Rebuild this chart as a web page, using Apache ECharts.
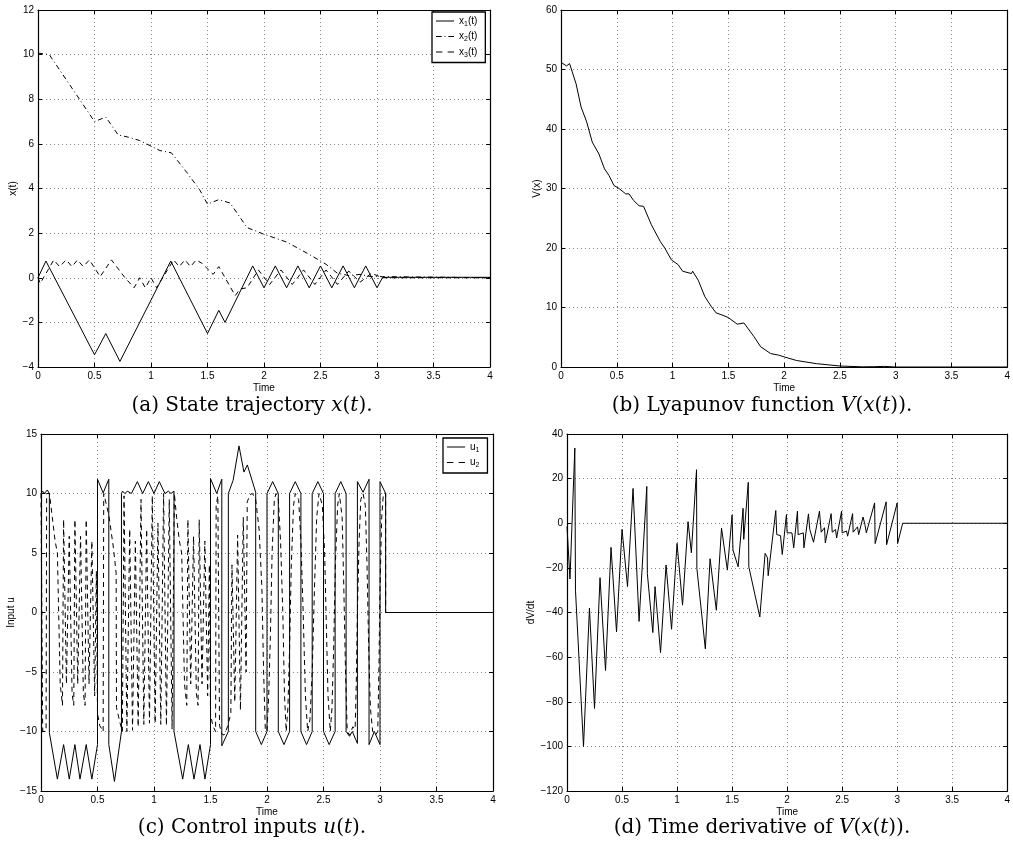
<!DOCTYPE html>
<html><head><meta charset="utf-8">
<script src="https://cdn.jsdelivr.net/npm/echarts@6/dist/echarts.min.js"></script>
<style>html,body{margin:0;padding:0;background:#fff}#c{width:1013px;height:850px}</style>
</head><body><div id="c"></div>
<script>
// ---- data (t, value) ----
const timeTicks = [0, 0.5, 1, 1.5, 2, 2.5, 3, 3.5, 4];

const x1 = [[0,0],[0.07,0.75],[0.5,-3.45],[0.6,-2.5],[0.725,-3.75],[1.175,0.75],[1.5,-2.5],[1.6,-1.46],[1.655,-2.0],[1.9,0.53],[2.0,-0.45],[2.1,0.53],[2.2,-0.45],[2.3,0.53],[2.4,-0.45],[2.5,0.53],[2.6,-0.45],[2.7,0.53],[2.8,-0.45],[2.9,0.53],[3.0,-0.45],[3.05,0.02],[4,0.02]];
const x2 = [[0,10.07],[0.1,10.0],[0.37,7.98],[0.5,7.0],[0.6,7.2],[0.71,6.4],[0.8,6.3],[0.9,6.15],[1.0,5.9],[1.08,5.7],[1.18,5.6],[1.32,4.7],[1.43,3.95],[1.5,3.3],[1.6,3.5],[1.7,3.35],[1.85,2.25],[2.0,1.95],[2.2,1.6],[2.4,1.05],[2.55,0.6],[2.65,0.2],[2.75,0.1],[2.85,0.15],[2.95,0.05],[3.05,0.05],[4,0.0]];
const x3 = [[0,0],[0.02,-0.25],[0.14,0.8],[0.19,0.5],[0.25,0.8],[0.3,0.5],[0.35,0.8],[0.4,0.5],[0.455,0.8],[0.55,0.05],[0.65,0.8],[0.77,0.0],[0.85,-0.45],[0.9,0.0],[0.95,-0.45],[1.0,0.0],[1.05,-0.45],[1.2,0.8],[1.25,0.5],[1.3,0.8],[1.35,0.5],[1.4,0.8],[1.45,0.65],[1.55,0.15],[1.6,0.5],[1.745,-0.8],[1.79,-0.5],[1.85,-0.45],[1.95,0.35],[2.05,-0.3],[2.15,0.35],[2.25,-0.3],[2.35,0.35],[2.45,-0.3],[2.55,0.35],[2.65,-0.3],[2.75,0.3],[2.85,-0.2],[2.95,0.2],[3.05,0.0],[4,0]];

const V = [[0,51.2],[0.05,50.6],[0.077,51.0],[0.135,47.6],[0.18,43.7],[0.23,41.2],[0.28,37.8],[0.34,35.8],[0.39,33.3],[0.43,32.2],[0.475,30.5],[0.52,30.0],[0.58,29.1],[0.61,29.1],[0.65,28.0],[0.7,27.1],[0.74,27.0],[0.81,23.9],[0.89,21.1],[0.93,20.0],[0.99,18.0],[1.05,17.2],[1.09,16.1],[1.17,15.7],[1.18,16.1],[1.23,14.6],[1.29,11.8],[1.35,10.1],[1.39,9.1],[1.45,8.7],[1.5,8.3],[1.58,7.2],[1.64,7.4],[1.73,5.1],[1.79,3.4],[1.88,2.25],[1.95,2.0],[2.0,1.7],[2.11,1.1],[2.29,0.56],[2.5,0.17],[2.7,0.03],[2.8,0.05],[2.9,0.1],[3.0,0.0],[4,0]];

const u1 = [[0,10.0],[0.015,10.2],[0.03,10.0],[0.056,10.3],[0.074,10.0],[0.074,-10.1],[0.145,-14.0],[0.2,-11.1],[0.25,-14.0],[0.3,-11.1],[0.345,-14.0],[0.4,-11.1],[0.45,-14.0],[0.5,-11.1],[0.5,11.2],[0.55,10.05],[0.6,11.2],[0.6,-11.1],[0.65,-14.2],[0.712,-10.0],[0.712,10.0],[0.722,10.2],[0.743,10.0],[0.764,10.2],[0.8,10.0],[0.853,11.0],[0.9,10.0],[0.95,11.0],[1.0,10.0],[1.047,11.0],[1.097,10.0],[1.127,10.2],[1.15,10.0],[1.177,10.2],[1.177,-10.0],[1.254,-14.0],[1.304,-11.1],[1.354,-14.0],[1.407,-11.1],[1.451,-14.0],[1.5,-11.1],[1.5,11.25],[1.555,10.0],[1.6,11.2],[1.6,-11.2],[1.658,-10.0],[1.658,10.0],[1.70,11.1],[1.752,14.0],[1.796,11.8],[1.826,12.4],[1.9,10.1],[1.9,-10.0],[1.95,-11.1],[2.0,-10.0],[2.0,10.0],[2.05,11.0],[2.1,10.0],[2.1,-10.0],[2.15,-11.1],[2.2,-10.0],[2.2,10.0],[2.25,11.0],[2.3,10.0],[2.3,-10.0],[2.35,-11.1],[2.4,-10.0],[2.4,10.0],[2.45,11.0],[2.5,10.0],[2.5,-10.0],[2.55,-11.1],[2.603,-10.0],[2.603,10.0],[2.653,11.0],[2.7,10.0],[2.7,-10.0],[2.73,-10.4],[2.755,-10.0],[2.8,-11.0],[2.8,11.0],[2.85,10.1],[2.903,11.2],[2.903,-11.1],[2.95,-10.0],[3.0,-11.1],[3.0,11.0],[3.05,10.0],[3.05,0],[4,0]];

const u2 = [[0,10.0],[0.012,10.0],[0.015,-10.0],[0.045,-9.8],[0.05,10.0],[0.075,10.0],[0.1,8.0],[0.125,6.0],
[0.145,5.0],[0.17,-6.0],[0.19,-7.8],[0.2,7.8],[0.225,-6.0],[0.25,6.4],[0.275,-6.8],[0.29,-7.8],
[0.3,7.8],[0.325,-6.0],[0.35,6.4],[0.375,-6.8],[0.39,-7.8],
[0.4,7.8],[0.425,-6.0],[0.45,6.0],[0.475,-7.0],[0.49,3.5],[0.5,-8.5],
[0.52,-9.5],[0.55,-10.0],[0.555,10.0],[0.6,8.2],[0.64,5.5],[0.665,3.3],[0.668,-8.0],[0.7,-9.3],[0.72,-10.0],
[0.735,9.8],[0.76,-10.0],[0.785,7.0],[0.81,-9.9],[0.835,6.0],[0.86,-9.6],[0.885,9.5],[0.91,-9.4],[0.935,7.0],[0.96,-9.3],[0.985,9.8],[1.01,-9.3],[1.035,7.5],[1.06,-9.4],[1.085,10.0],[1.11,-9.5],[1.135,9.5],[1.16,-9.8],[1.18,10.0],
[1.2,8.0],[1.225,6.0],[1.245,5.0],[1.27,-6.0],[1.29,-7.8],[1.3,7.8],[1.325,-6.0],[1.35,6.4],[1.375,-6.8],[1.39,-7.8],[1.4,7.8],[1.425,-6.0],[1.45,6.0],[1.475,-7.0],[1.49,4.0],[1.5,-8.5],
[1.52,-9.5],[1.545,-10.0],[1.55,9.0],[1.565,9.8],[1.58,-9.5],[1.6,-10.2],[1.62,-10.3],[1.65,-9.6],[1.68,-8.5],[1.69,4.0],[1.715,-7.5],[1.74,6.5],[1.765,-8.2],[1.79,8.0],[1.815,-5.0],[1.825,9.3],[1.85,9.9],[1.87,10.0],
[1.9,9.5],[1.93,7.0],[1.955,2.0],[1.97,-5.0],[1.985,-9.8],[2.0,-10.0],[2.015,-7.0],[2.03,-2.0],[2.045,5.0],[2.065,9.5],[2.08,10.0],
[2.1,9.5],[2.12,6.0],[2.14,0.0],[2.155,-7.0],[2.17,-10.0],[2.185,-8.0],[2.2,-3.0],[2.215,4.0],[2.235,9.0],[2.25,10.0],
[2.28,9.5],[2.3,6.0],[2.32,0.0],[2.34,-7.0],[2.36,-10.0],[2.38,-9.0],[2.4,-5.0],[2.42,2.0],[2.44,8.0],[2.46,10.0],
[2.49,9.0],[2.51,5.0],[2.525,-1.0],[2.54,-7.0],[2.56,-10.0],[2.575,-8.0],[2.59,-3.0],[2.605,4.0],[2.625,9.0],[2.64,10.0],
[2.665,8.0],[2.68,2.0],[2.695,-5.0],[2.71,-10.0],[2.73,-10.3],[2.76,-9.6],[2.78,-9.8],[2.79,-6.0],[2.8,0.0],[2.815,6.0],[2.83,9.5],[2.85,10.0],
[2.87,9.0],[2.885,4.0],[2.9,-3.0],[2.915,-8.0],[2.935,-10.0],[2.96,-10.3],[2.98,-10.0],[2.99,-5.0],[3.0,2.0],[3.015,8.0],[3.03,10.0],[3.05,10.0],[3.05,0],[4,0]];

const dV = [[0,-1.5],[0.027,-25],[0.071,33.7],[0.077,-30],[0.15,-100],[0.204,-38],[0.25,-83],[0.30,-24.4],[0.35,-66],[0.40,-10.8],[0.45,-48.7],[0.50,-2.7],[0.55,-28.4],[0.60,15.6],[0.655,-44],[0.725,16.5],[0.73,-22.5],[0.78,-49],[0.80,-28.4],[0.85,-58],[0.90,-18.7],[0.95,-47.5],[1.0,-9],[1.05,-36.7],[1.10,0.7],[1.13,-13.2],[1.177,24],[1.18,-20.2],[1.257,-56.3],[1.30,-15.9],[1.357,-39],[1.404,-2.2],[1.457,-21],[1.50,3.7],[1.508,-12],[1.555,-19.5],[1.6,6.7],[1.606,-7.2],[1.647,18.3],[1.652,-19.5],[1.752,-42],[1.80,-13.5],[1.822,-15.5],[1.828,-23.5],[1.897,5.7],[1.906,-5.1],[1.94,-5.5],[1.956,-14],[1.994,3.9],[2.0,-4.3],[2.044,-4.3],[2.06,-11],[2.094,5.4],[2.1,-5.1],[2.147,-4.3],[2.153,-11],[2.194,4.2],[2.206,-2.8],[2.24,-8.5],[2.294,5.4],[2.31,-4],[2.34,-2],[2.347,-8.8],[2.4,4.3],[2.41,-4],[2.44,-2.8],[2.45,-6.6],[2.495,5.4],[2.5,-4.3],[2.54,-3.5],[2.55,-5.8],[2.595,4.3],[2.6,-4],[2.64,-1.6],[2.65,-5.1],[2.69,2.8],[2.707,-0.6],[2.72,-4.3],[2.795,9.1],[2.8,-9.1],[2.9,9.6],[2.904,-9.6],[3.0,9.1],[3.004,-9.1],[3.05,0],[4,0]];

// ---- chart ----
const SANS = 'Liberation Sans';
const fmt = v => (v < 0 ? '\u2212' + (-v) : String(v));
const grids = [
  {left: 38,  top: 10,  width: 452, height: 357},
  {left: 561, top: 10,  width: 452, height: 357},
  {left: 41,  top: 434, width: 452, height: 357},
  {left: 567, top: 434, width: 453, height: 357}
];
const yCfg = [
  {min: -4, max: 12, interval: 2, name: 'x(t)', gap: 17},
  {min: 0, max: 60, interval: 10, name: 'V(x)', gap: 16},
  {min: -15, max: 15, interval: 5, name: 'Input u', gap: 21},
  {min: -120, max: 40, interval: 20, name: 'dV/dt', gap: 26}
];
const axLine = {show: true, onZero: false, lineStyle: {color: '#000', width: 1.2}};
const tick = {show: true, inside: true, length: 4, lineStyle: {color: '#000', width: 1}};
const grid = {show: true, lineStyle: {color: '#777', width: 0.9, type: [1, 3]}};
const lbl = {color: '#000', fontSize: 10, fontFamily: SANS, margin: 4, formatter: fmt, showMinLabel: true, showMaxLabel: true};
const nameStyle = {color: '#000', fontSize: 10, fontFamily: SANS};
const xAxis = [], yAxis = [];
grids.forEach((g, i) => {
  xAxis.push({gridIndex: i, type: 'value', min: timeTicks[0], max: timeTicks[timeTicks.length - 1], interval: 0.5, position: 'bottom',
    axisLine: axLine, axisTick: tick, axisLabel: lbl, splitLine: grid,
    name: 'Time', nameLocation: 'middle', nameGap: 16, nameTextStyle: nameStyle});
  xAxis.push({gridIndex: i, type: 'value', min: 0, max: 4, interval: 0.5, position: 'top',
    axisLine: axLine, axisTick: tick, axisLabel: {show: false}, splitLine: {show: false}});
  const c = yCfg[i];
  yAxis.push({gridIndex: i, type: 'value', min: c.min, max: c.max, interval: c.interval, position: 'left',
    axisLine: axLine, axisTick: tick, axisLabel: lbl, splitLine: grid,
    name: c.name, nameLocation: 'middle', nameGap: c.gap, nameTextStyle: nameStyle});
  yAxis.push({gridIndex: i, type: 'value', min: c.min, max: c.max, interval: c.interval, position: 'right',
    axisLine: axLine, axisTick: tick, axisLabel: {show: false}, splitLine: {show: false}});
});
function ln(name, data, gi, dash) {
  return {type: 'line', name: name, data: data, xAxisIndex: gi * 2, yAxisIndex: gi * 2,
    showSymbol: false, symbol: 'none', animation: false, silent: true, z: 3,
    itemStyle: {color: '#000'}, lineStyle: {color: '#000', width: 1, type: dash}};
}
const series = [
  ln('x1(t)', x1, 0, 'solid'),
  ln('x2(t)', x2, 0, [5, 3, 1, 3]),
  ln('x3(t)', x3, 0, [5, 4]),
  ln('V', V, 1, 'solid'),
  ln('u1', u1, 2, 'solid'),
  ln('u2', u2, 2, [5, 4]),
  ln('dV', dV, 3, 'solid')
];
const ICON_SOLID = 'path://M0,0H18V1H0Z';
const ICON_DASH = 'path://M0,0H6V1H0Z M11,0H17V1H11Z';
const ICON_DASHDOT = 'path://M0,0H6V1H0Z M9,0H10V1H9Z M13,0H19V1H13Z';
const legRich = {n: {fontSize: 10, fontFamily: SANS, color: '#000'}, s: {fontSize: 7, fontFamily: SANS, color: '#000', padding: [6, 0, 0, 0]}};
function legFmt(name) {
  const m = name.match(/^([a-z])(\d)(.*)$/);
  return '{n|' + m[1] + '}{s|' + m[2] + '}' + (m[3] ? '{n|' + m[3] + '}' : '');
}
const legBase = {orient: 'vertical', itemWidth: 18, itemHeight: 1.1, itemGap: 4, padding: [4, 8, 4, 4],
  borderColor: '#000', borderWidth: 1.3, backgroundColor: '#fff', selectedMode: false,
  itemStyle: {color: '#000', borderWidth: 0}, lineStyle: {width: 0},
  textStyle: {fontSize: 10, fontFamily: SANS, color: '#000', rich: legRich}, formatter: legFmt};
const legend = [
  Object.assign({}, legBase, {data: [{name: 'x1(t)', icon: ICON_SOLID}, {name: 'x2(t)', icon: ICON_DASHDOT}, {name: 'x3(t)', icon: ICON_DASH}], left: 432, top: 12}),
  Object.assign({}, legBase, {data: [{name: 'u1', icon: ICON_SOLID}, {name: 'u2', icon: ICON_DASH}], left: 443, top: 438})
];
const SERIF = 'DejaVu Serif';
const capRich = {r: {fontFamily: SERIF, fontSize: 20, fill: '#000'}, i: {fontFamily: SERIF, fontStyle: 'italic', fontSize: 20, fill: '#000'}};
function cap(x, y, txt) {
  return {type: 'text', x: x, y: y, silent: true, style: {text: txt, rich: capRich, align: 'center', verticalAlign: 'middle'}};
}
const graphic = [
  cap(252, 406, '{r|(a) State trajectory }{i|x}{r|(}{i|t}{r|).}'),
  cap(762, 406, '{r|(b) Lyapunov function }{i|V}{r|(}{i|x}{r|(}{i|t}{r|)).}'),
  cap(252, 828, '{r|(c) Control inputs }{i|u}{r|(}{i|t}{r|).}'),
  cap(762, 828, '{r|(d) Time derivative of }{i|V}{r|(}{i|x}{r|(}{i|t}{r|)).}')
];
const chart = echarts.init(document.getElementById('c'), null, {renderer: 'canvas'});
chart.setOption({animation: false, backgroundColor: '#fff', grid: grids, xAxis: xAxis, yAxis: yAxis, series: series, legend: legend, graphic: graphic});
</script></body></html>
